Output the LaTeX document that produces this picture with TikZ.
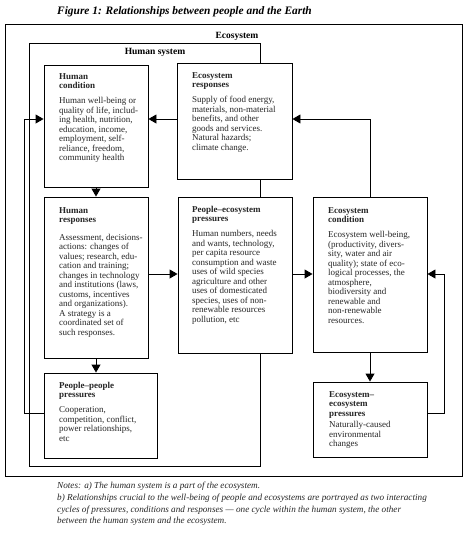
\documentclass[tikz,border=0pt]{standalone}
\usepackage{fontspec}
\setmainfont{Liberation Serif}
\usetikzlibrary{arrows.meta}
\begin{document}
\begin{tikzpicture}[x=1pt,y=-1pt,
  frame/.style={draw,line width=0.9pt,inner sep=0pt},
  box/.style={draw,fill=white,line width=0.9pt,inner sep=0pt},
  txt/.style={anchor=north west,inner sep=0pt,align=left,text=black!85,
    font=\fontsize{9}{9.5}\selectfont},
  lbl/.style={inner sep=0pt,font=\fontsize{9.5}{11}\selectfont\bfseries},
  arr/.style={line width=0.9pt,-{Triangle[length=8pt,width=9pt]}}]
\useasboundingbox (0,0) rectangle (468,538);
% title
\node[anchor=base west,inner sep=0pt,font=\fontsize{11.4}{13}\selectfont\bfseries\itshape] (title) at (57,14) {Figure 1: Relationships between people and the Earth};
% frames
\node[frame,minimum width=457pt,minimum height=452pt] (eco) at (233.5,250) {};
\node[lbl] (ecol) at (237,36) {Ecosystem};
\node[frame,minimum width=231pt,minimum height=423pt] (hum) at (144.5,254.5) {};
\node[lbl] (huml) at (155,52) {Human system};
% boxes
\node[box,minimum width=104pt,minimum height=122pt] (HC) at (96,126) {};
\node[box,minimum width=115pt,minimum height=116pt] (ER) at (234.5,121) {};
\node[box,minimum width=104pt,minimum height=161pt] (HR) at (96,277.5) {};
\node[box,minimum width=114pt,minimum height=156pt] (PE) at (235,275) {};
\node[box,minimum width=114pt,minimum height=155pt] (EC) at (370,274.5) {};
\node[box,minimum width=113pt,minimum height=85pt] (PP) at (100.5,415.5) {};
\node[box,minimum width=114pt,minimum height=75pt] (EE) at (370,419.5) {};
% texts
\node[txt] (HCt) at (59,73) {\textbf{Human}\\\textbf{condition}\\[5.5pt]
Human well-being or\\quality of life, includ-\\ing health, nutrition,\\education, income,\\employment, self-\\reliance, freedom,\\community health};
\node[txt] (ERt) at (192,72) {\textbf{Ecosystem}\\\textbf{responses}\\[5.5pt]
Supply of food energy,\\materials, non-material\\benefits, and other\\goods and services.\\Natural hazards;\\climate change.};
\node[txt] (HRt) at (59,207) {\textbf{Human}\\\textbf{responses}\\[8pt]
\fontsize{9}{10}\selectfont
Assessment, decisions-\\actions: changes of\\values; research, edu-\\cation and training;\\changes in technology\\and institutions (laws,\\customs, incentives\\and organizations).\\A strategy is a\\coordinated set of\\such responses.};
\node[txt] (PEt) at (192,206) {\textbf{People--ecosystem}\\\textbf{pressures}\\[5.5pt]
Human numbers, needs\\and wants, technology,\\per capita resource\\consumption and waste\\uses of wild species\\agriculture and other\\uses of domesticated\\species, uses of non-\\renewable resources\\pollution, etc};
\node[txt] (ECt) at (328,207) {\textbf{Ecosystem}\\\textbf{condition}\\[5.5pt]
Ecosystem well-being,\\(productivity, divers-\\sity, water and air\\quality); state of eco-\\logical processes, the\\atmosphere,\\biodiversity and\\renewable and\\non-renewable\\resources.};
\node[txt] (PPt) at (59,382) {\textbf{People--people}\\\textbf{pressures}\\[5.5pt]
Cooperation,\\competition, conflict,\\power relationships,\\etc};
\node[txt] (EEt) at (329,391) {\textbf{Ecosystem--}\\\textbf{ecosystem}\\\textbf{pressures}\\[2pt]
Naturally-caused\\environmental\\changes};
% connectors
\coordinate (yA) at (0,119);
\coordinate (yB) at (0,274);
\coordinate (yC) at (0,413);
\coordinate (xL) at (24,0);
\coordinate (xR) at (444,0);
\draw[arr] (ER.west |- yA) -- (HC.east |- yA);
\draw[arr] (EC.north) |- (ER.east |- yA);
\draw[arr] (HC.south) -- (HR.north);
\draw[arr] (HR.south) -- (HR.south |- PP.north);
\draw[arr] (HR.east |- yB) -- (PE.west |- yB);
\draw[arr] (PE.east |- yB) -- (EC.west |- yB);
\draw[arr] (EC.south) -- (EE.north);
\draw[arr] (EE.east |- yC) -- (xR |- yC) -- (xR |- yB) -- (EC.east |- yB);
\draw[arr] (PP.west |- yC) -- (xL |- yC) -- (xL |- yA) -- (HC.west |- yA);
% notes
\node[anchor=north west,inner sep=0pt,align=left,text=black!85,font=\fontsize{9.2}{11.7}\selectfont\itshape] (notes) at (57,482) {Notes: a) The human system is a part of the ecosystem.\\
b) Relationships crucial to the well-being of people and ecosystems are portrayed as two interacting\\
cycles of pressures, conditions and responses --- one cycle within the human system, the other\\
between the human system and the ecosystem.};
\end{tikzpicture}
\end{document}
